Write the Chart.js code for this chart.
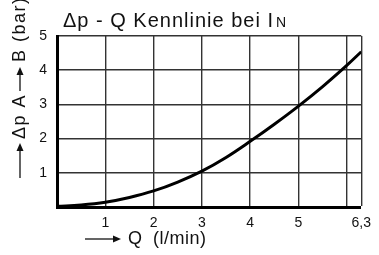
<!DOCTYPE html>
<html>
<head>
<meta charset="utf-8">
<script src="https://cdn.jsdelivr.net/npm/chart.js@4.4.0/dist/chart.umd.min.js"></script>
<style>
    html, body { margin: 0; padding: 0; background: #fff; }
    #wrap { width: 379px; height: 255px; position: relative; }
</style>
</head>
<body>
<div id="wrap"><canvas id="kennlinie"></canvas></div>
<script>
// Durchfluss Q (l/min) und Druckdifferenz dp A -> B (bar)
const qValues = [0, 0.5, 1, 1.5, 2, 2.5, 3, 3.5, 4, 4.5, 5, 5.5, 6, 6.3];
const dpValues = [0.02, 0.06, 0.14, 0.28, 0.47, 0.73, 1.05, 1.45, 1.92, 2.42, 2.95, 3.52, 4.14, 4.54];

const xTicks = [0, 1, 2, 3, 4, 5, 6, 6.3];
const xTickLabels = ['', '1', '2', '3', '4', '5', '', '6,3'];
const yTicks = [0, 1, 2, 3, 4, 5];
const yTickLabels = ['', '1', '2', '3', '4', '5'];

const titleText = 'Δp - Q Kennlinie bei I';
const titleSub = 'N';
const yTitleParts = ['Δp A', 'B (bar)'];
const xTitleParts = ['Q', '(l/min)'];

const FONT = '"Liberation Sans", Arial, sans-serif';

// Pfeil mit gefüllter Spitze
function arrow(ctx, x1, y1, x2, y2) {
    const ang = Math.atan2(y2 - y1, x2 - x1);
    const head = 8;
    ctx.beginPath();
    ctx.moveTo(x1, y1);
    ctx.lineTo(x2 - Math.cos(ang) * head, y2 - Math.sin(ang) * head);
    ctx.lineWidth = 1.3;
    ctx.stroke();
    ctx.beginPath();
    ctx.moveTo(x2, y2);
    ctx.lineTo(x2 - Math.cos(ang) * head - Math.sin(ang) * 3.5, y2 - Math.sin(ang) * head + Math.cos(ang) * 3.5);
    ctx.lineTo(x2 - Math.cos(ang) * head + Math.sin(ang) * 3.5, y2 - Math.sin(ang) * head - Math.cos(ang) * 3.5);
    ctx.closePath();
    ctx.fill();
}

const labelPlugin = {
    id: 'labels',
    afterDraw(chart) {
        const ctx = chart.ctx;
        ctx.save();
        ctx.fillStyle = '#111';
        ctx.strokeStyle = '#111';

        // Titel
        ctx.font = '20px ' + FONT;
        ctx.letterSpacing = '1px';
        ctx.textBaseline = 'alphabetic';
        ctx.textAlign = 'left';
        ctx.fillText(titleText, 63, 27);
        let w = ctx.measureText(titleText).width;
        ctx.font = '14px ' + FONT;
        ctx.fillText(titleSub, 63 + w + 2, 27);

        // x-Achsentitel
        const ya = 239;
        arrow(ctx, 85, ya, 121, ya);
        ctx.font = '18px ' + FONT;
        ctx.letterSpacing = '0.5px';
        ctx.textBaseline = 'middle';
        ctx.fillText(xTitleParts[0], 128, ya);
        ctx.fillText(xTitleParts[1], 153, ya);

        // y-Achsentitel (gedreht)
        ctx.translate(20, 0);
        ctx.rotate(-Math.PI / 2);
        ctx.font = '18px ' + FONT;
        ctx.letterSpacing = '1.5px';
        let a = 178;
        arrow(ctx, -a, 0, -a + 35, 0);
        a -= 39;
        ctx.fillText(yTitleParts[0], -a, 0);
        a -= ctx.measureText(yTitleParts[0]).width + 3;
        arrow(ctx, -a, 0, -a + 24, 0);
        a -= 29;
        ctx.fillText(yTitleParts[1], -a, 0);
        ctx.restore();
    }
};

new Chart(document.getElementById('kennlinie'), {
    type: 'line',
    data: {
        datasets: [{
            data: qValues.map((q, i) => ({ x: q, y: dpValues[i] })),
            borderColor: '#000',
            borderWidth: 3,
            pointRadius: 0,
            tension: 0.4,
            fill: false
        }]
    },
    options: {
        responsive: true,
        maintainAspectRatio: false,
        animation: false,
        layout: { padding: { top: 36, right: 12, left: 0, bottom: 0 } },
        plugins: { legend: { display: false }, tooltip: { enabled: false } },
        scales: {
            x: {
                type: 'linear',
                min: 0,
                max: 6.3,
                afterBuildTicks: (scale) => { scale.ticks = xTicks.map(v => ({ value: v })); },
                afterFit: (scale) => { scale.height = 48; },
                grid: {
                    color: '#333',
                    lineWidth: (c) => (c.tick && c.tick.value === 0 ? 0 : 1.4),
                    drawTicks: false
                },
                border: { color: '#000', width: 3 },
                ticks: {
                    padding: 8,
                    maxRotation: 0,
                    autoSkip: false,
                    color: '#111',
                    font: { family: FONT, size: 14 },
                    callback: (v, i) => xTickLabels[i]
                }
            },
            y: {
                min: 0,
                max: 5,
                afterBuildTicks: (scale) => { scale.ticks = yTicks.map(v => ({ value: v })); },
                afterFit: (scale) => { scale.width = 57; },
                grid: {
                    color: '#333',
                    lineWidth: (c) => (c.tick && c.tick.value === 0 ? 0 : 1.4),
                    drawTicks: false
                },
                border: { color: '#000', width: 3 },
                ticks: {
                    padding: 10,
                    color: '#111',
                    font: { family: FONT, size: 14 },
                    callback: (v, i) => yTickLabels[i]
                }
            }
        }
    },
    plugins: [labelPlugin]
});
</script>
</body>
</html>
